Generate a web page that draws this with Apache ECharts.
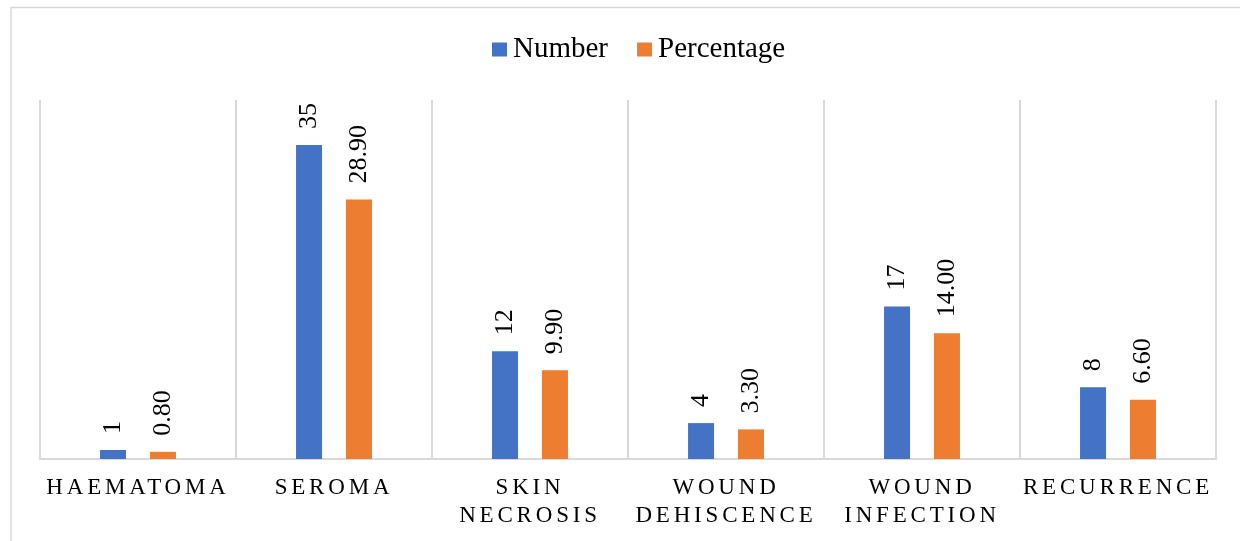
<!DOCTYPE html>
<html>
<head>
<meta charset="utf-8">
<style>
  html, body { margin: 0; padding: 0; background: #fff; }
  #chart { width: 1240px; height: 541px; }
</style>
<script src="https://cdn.jsdelivr.net/npm/echarts@6/dist/echarts.min.js"></script>
</head>
<body>
<div id="chart"></div>
<script>
// Post-operative complications: case counts and share of patients
const categories = ['HAEMATOMA', 'SEROMA', 'SKIN\nNECROSIS', 'WOUND\nDEHISCENCE', 'WOUND\nINFECTION', 'RECURRENCE'];
const numberValues = [1, 35, 12, 4, 17, 8];
const percentageValues = [0.8, 28.9, 9.9, 3.3, 14.0, 6.6];
const seriesNames = ['Number', 'Percentage'];

const serif = "'Liberation Serif', 'Times New Roman', serif";
const gridColor = '#d9d9d9';

// Category captions are drawn with extra tracking between letters
const captionLines = new Set(categories.flatMap(c => c.split('\n')));
const proto = CanvasRenderingContext2D.prototype;
const baseFillText = proto.fillText;
function drawText(ctx, text, x, y, maxWidth) {
  return maxWidth === undefined
    ? baseFillText.call(ctx, text, x, y)
    : baseFillText.call(ctx, text, x, y, maxWidth);
}
proto.fillText = function (text, x, y, maxWidth) {
  if (captionLines.has(String(text))) {
    const font = this.font;
    this.letterSpacing = '3.8px';
    this.font = font;
    const r = drawText(this, text, x, y, maxWidth);
    this.letterSpacing = '0px';
    this.font = font;
    return r;
  }
  if (this.letterSpacing && this.letterSpacing !== '0px') {
    const font = this.font;
    this.letterSpacing = '0px';
    this.font = font;
  }
  return drawText(this, text, x, y, maxWidth);
};

const chart = echarts.init(document.getElementById('chart'), null, { renderer: 'canvas' });

const valueLabel = (fmt) => ({
  show: true,
  position: 'top',
  rotate: 90,
  align: 'left',
  verticalAlign: 'middle',
  distance: 16,
  color: '#000',
  fontFamily: serif,
  fontSize: 26,
  formatter: fmt
});

chart.setOption({
  animation: false,
  backgroundColor: '#fff',
  legend: {
    data: seriesNames,
    top: 30,
    left: 487,
    icon: 'rect',
    itemWidth: 15,
    itemHeight: 14,
    itemGap: 29,
    textStyle: { fontFamily: serif, fontSize: 29, color: '#000', padding: [0, 0, 0, 1] }
  },
  grid: { left: 40, right: 24, top: 100, bottom: 82, containLabel: false },
  xAxis: {
    type: 'category',
    data: categories,
    boundaryGap: true,
    axisLine: { show: true, lineStyle: { color: gridColor, width: 2 } },
    axisTick: { show: false },
    splitLine: { show: true, interval: 0, lineStyle: { color: gridColor, width: 2 } },
    axisLabel: {
      interval: 0,
      margin: 15,
      color: '#000',
      fontFamily: serif,
      fontSize: 23,
      lineHeight: 28
    }
  },
  yAxis: {
    type: 'value',
    min: 0,
    max: 40,
    interval: 5,
    show: false,
    splitLine: { show: false }
  },
  series: [
    {
      name: seriesNames[0],
      type: 'bar',
      data: numberValues,
      barWidth: 26,
      barGap: '92%',
      itemStyle: { color: '#4472C4' },
      label: valueLabel(p => String(p.value)),
      silent: true
    },
    {
      name: seriesNames[1],
      type: 'bar',
      data: percentageValues,
      barWidth: 26,
      itemStyle: { color: '#ED7D31' },
      label: valueLabel(p => Number(p.value).toFixed(2)),
      silent: true
    }
  ],
  graphic: [
    {
      type: 'polyline',
      silent: true,
      shape: { points: [[11, 541], [11, 7.5], [1240, 7.5]] },
      style: { stroke: gridColor, lineWidth: 1.5, fill: 'none' }
    }
  ]
});
</script>
</body>
</html>
